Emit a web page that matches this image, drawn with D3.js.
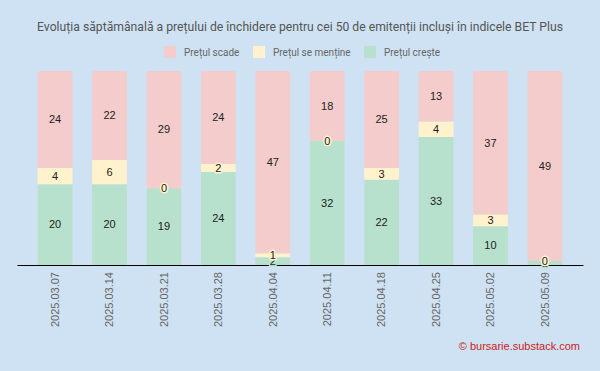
<!DOCTYPE html>
<html>
<head>
<meta charset="utf-8">
<script src="https://cdn.jsdelivr.net/npm/d3@7"></script>
<style>
  body { margin: 0; background: #cfe2f3; }
  svg { display: block; }
  .lbl { font-family: "Liberation Sans", Arial, sans-serif; font-size: 11px; fill: #222; paint-order: stroke; stroke-width: 3px; stroke-linejoin: round; }
  .tick text { font-family: "Liberation Sans", Arial, sans-serif; font-size: 11px; fill: #666; }
</style>
</head>
<body>
<div id="chart"></div>
<script>
// saptamanile
var weeks = ["2025.03.07", "2025.03.14", "2025.03.21", "2025.03.28", "2025.04.04",
             "2025.04.11", "2025.04.18", "2025.04.25", "2025.05.02", "2025.05.09"];
var pretCreste  = [20, 20, 19, 24, 2, 32, 22, 33, 10, 1];
var pretMentine = [4, 6, 0, 2, 1, 0, 3, 4, 3, 0];
var pretScade   = [24, 22, 29, 24, 47, 18, 25, 13, 37, 49];

var seriesKeys = ["creste", "mentine", "scade"];
var seriesNames = {creste: "Prețul crește", mentine: "Prețul se menține", scade: "Prețul scade"};
var colors = {creste: "#b7e1cd", mentine: "#fff2cc", scade: "#f4cccc"};

var width = 600, height = 371;
var margin = {top: 71, right: 17, bottom: 106, left: 17};

var rows = weeks.map(function(w, i) {
    return {week: w, creste: pretCreste[i], mentine: pretMentine[i], scade: pretScade[i]};
});

var svg = d3.select("#chart").append("svg")
    .attr("width", width)
    .attr("height", height);

svg.append("rect").attr("width", width).attr("height", height).attr("fill", "#cfe2f3");

var title = svg.append("text")
    .attr("x", width / 2)
    .attr("y", 31)
    .attr("text-anchor", "middle")
    .style("font-family", "Roboto, sans-serif")
    .style("font-size", "14px")
    .style("fill", "#555")
    .text("Evoluția săptămânală a prețului de închidere pentru cei 50 de emitenții incluși în indicele BET Plus");
// titlul trebuie sa ocupe cam 526px
var tl = title.node().getComputedTextLength();
title.style("font-size", (14 * 526 / tl).toFixed(2) + "px");

// legenda
var legendItems = [
    {key: "scade", x: 164},
    {key: "mentine", x: 253},
    {key: "creste", x: 364}
];
var leg = svg.selectAll(".legend").data(legendItems).enter().append("g")
    .attr("class", "legend")
    .attr("transform", function(d) { return "translate(" + d.x + ",46)"; });
leg.append("rect").attr("width", 12).attr("height", 12).attr("fill", function(d) { return colors[d.key]; });
leg.append("text")
    .attr("x", 20).attr("y", 10)
    .style("font-family", "Roboto, sans-serif")
    .style("font-size", "10px")
    .style("fill", "#666")
    .text(function(d) { return seriesNames[d.key]; });

var x = d3.scaleBand()
    .domain(weeks)
    .range([margin.left, width - margin.right])
    .paddingInner(0.36)
    .paddingOuter(0.38);

var y = d3.scaleLinear()
    .domain([0, 1])
    .range([height - margin.bottom, margin.top]);

var stack = d3.stack().keys(seriesKeys).offset(d3.stackOffsetExpand);
var stacked = stack(rows);

var layers = svg.selectAll(".layer").data(stacked).enter().append("g")
    .attr("class", "layer")
    .attr("fill", function(d) { return colors[d.key]; });

layers.selectAll("path").data(function(d) { return d; }).enter().append("path")
    .attr("d", function(d, i, nodes) {
        var key = d3.select(nodes[i].parentNode).datum().key;
        var x0 = x(d.data.week), w = x.bandwidth();
        var y0 = y(d[0]), y1 = y(d[1]);
        var r = key === "scade" ? 2 : 0;
        return "M" + x0 + "," + y0 +
            "V" + (y1 + r) +
            "Q" + x0 + "," + y1 + " " + (x0 + r) + "," + y1 +
            "H" + (x0 + w - r) +
            "Q" + (x0 + w) + "," + y1 + " " + (x0 + w) + "," + (y1 + r) +
            "V" + y0 + "Z";
    });

svg.append("g")
    .attr("class", "xaxis")
    .attr("transform", "translate(0," + (height - margin.bottom) + ")")
    .call(d3.axisBottom(x).tickSize(0).tickPadding(0))
    .call(function(g) {
        g.select(".domain").attr("stroke", "#000").attr("stroke-width", 1.2);
        g.selectAll(".tick text")
            .attr("transform", "rotate(-90)")
            .attr("text-anchor", "end")
            .attr("x", -7)
            .attr("y", 0)
            .attr("dy", "0.35em");
    });

// etichete valori
stacked.forEach(function(layer) {
    svg.append("g").selectAll("text").data(layer).enter().append("text")
        .attr("class", "lbl")
        .attr("x", function(d) { return x(d.data.week) + x.bandwidth() / 2; })
        .attr("y", function(d) { return (y(d[0]) + y(d[1])) / 2; })
        .attr("dy", "0.35em")
        .attr("text-anchor", "middle")
        .attr("stroke", colors[layer.key])
        .text(function(d) { return d.data[layer.key]; });
});

svg.append("text")
    .attr("x", 580)
    .attr("y", 350)
    .attr("text-anchor", "end")
    .style("font-family", "Liberation Sans, Arial, sans-serif")
    .style("font-size", "11px")
    .style("fill", "#cc2222")
    .text("© bursarie.substack.com");
</script>
</body>
</html>
